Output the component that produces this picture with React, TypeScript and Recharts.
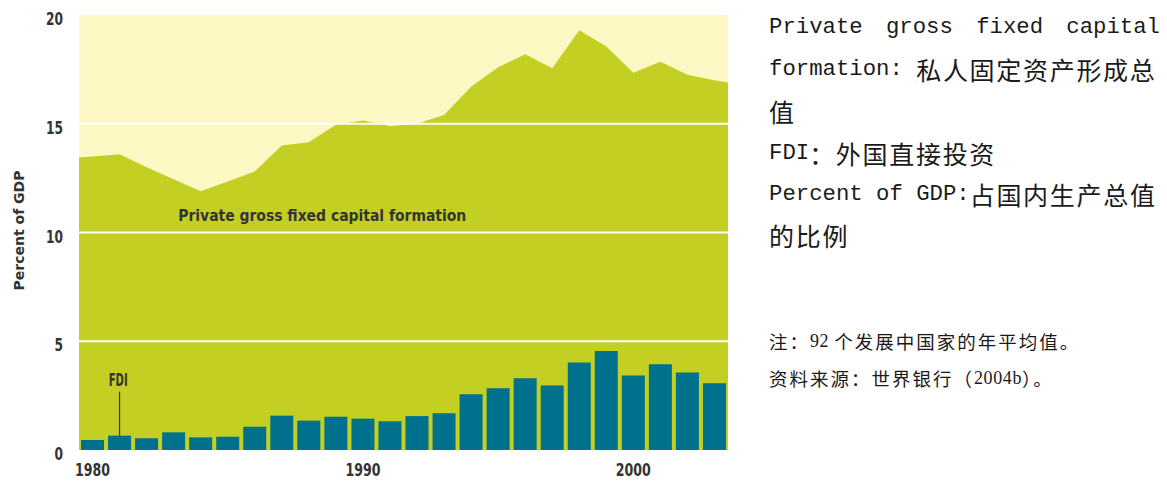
import React from "react";
import {
  ComposedChart,
  Area,
  Bar,
  XAxis,
  YAxis,
  CartesianGrid,
  ReferenceLine,
  ReferenceDot,
  Label,
} from "recharts";

const YEARS = [
  1980, 1981, 1982, 1983, 1984, 1985, 1986, 1987, 1988, 1989, 1990, 1991,
  1992, 1993, 1994, 1995, 1996, 1997, 1998, 1999, 2000, 2001, 2002, 2003,
];
const FDI = [
  0.46, 0.66, 0.54, 0.81, 0.58, 0.61, 1.07, 1.58, 1.35, 1.53, 1.44, 1.32,
  1.56, 1.69, 2.56, 2.84, 3.3, 2.96, 4.02, 4.55, 3.42, 3.94, 3.56, 3.07,
];
const PGFCF = [
  13.5, 13.6, 13.0, 12.45, 11.9, 12.35, 12.8, 14.0, 14.15, 14.95, 15.15, 14.9,
  15.0, 15.4, 16.7, 17.6, 18.2, 17.55, 19.3, 18.55, 17.35, 17.85, 17.25, 17.0,
];
// area runs to the plot edges: values read at the left / right border
const EDGE_X = [1979.5, 2003.5];
const EDGE_PGFCF = [13.45, 16.9];

const Y_TICKS = [0, 5, 10, 15, 20];
const X_TICKS = [1980, 1990, 2000];
const GRID_LINES = [5, 10, 15];

const BG = "#fdf8c4";
const GREEN = "#c3cf22";
const TEAL = "#00718c";
const INK = "#333333";
const CHART_FONT = "'Liberation Sans Narrow', 'DejaVu Sans Condensed', 'Liberation Sans', Arial, sans-serif";

const rows = YEARS.map((year, i) => ({ year, fdi: FDI[i] }));
const areaRows = [
  { x: EDGE_X[0], pgfcf: EDGE_PGFCF[0] },
  ...YEARS.map((year, i) => ({ x: year, pgfcf: PGFCF[i] })),
  { x: EDGE_X[1], pgfcf: EDGE_PGFCF[1] },
];

function YTick({ x, y, payload }: any) {
  const s = String(payload.value);
  return (
    <text
      x={x}
      y={y + 4}
      textAnchor="end"
      dominantBaseline="central"
      fill={INK}
      fontFamily={CHART_FONT}
      fontWeight={700}
      fontSize={17}
      textLength={s.length * 8.5}
      lengthAdjust="spacingAndGlyphs"
    >
      {s}
    </text>
  );
}

function XTick({ x, y, payload }: any) {
  const s = String(payload.value);
  return (
    <text
      x={x}
      y={y + 12}
      textAnchor="middle"
      dominantBaseline="central"
      fill={INK}
      fontFamily={CHART_FONT}
      fontWeight={700}
      fontSize={17}
      textLength={35}
      lengthAdjust="spacingAndGlyphs"
    >
      {s}
    </text>
  );
}

function YLabel({ viewBox }: any) {
  const cx = 19;
  const cy = viewBox.y + viewBox.height / 2 - 2;
  return (
    <text
      x={cx}
      y={cy}
      transform={`rotate(-90 ${cx} ${cy})`}
      textAnchor="middle"
      dominantBaseline="central"
      fill={INK}
      fontFamily={CHART_FONT}
      fontWeight={700}
      fontSize={14}
      textLength={120}
      lengthAdjust="spacingAndGlyphs"
    >
      Percent of GDP
    </text>
  );
}

function MixedLine({
  text,
  latin,
  cjk,
}: {
  text: string;
  latin: React.CSSProperties;
  cjk: React.CSSProperties;
}) {
  const parts = text.match(/[\u2E80-\uFFEF]+|[^\u2E80-\uFFEF]+/g) ?? [];
  return (
    <>
      {parts.map((p, i) =>
        /[\u2E80-\uFFEF]/.test(p) ? (
          <span key={i} style={cjk}>
            {p}
          </span>
        ) : (
          <span key={i} style={latin}>
            {p}
          </span>
        )
      )}
    </>
  );
}

const GLOSS_LATIN: React.CSSProperties = {
  fontFamily: "'Liberation Mono', 'DejaVu Sans Mono', monospace",
  fontSize: 22.3,
  whiteSpace: "pre",
};
const GLOSS_CJK: React.CSSProperties = {
  fontFamily: "'Noto Sans CJK SC', sans-serif",
  fontSize: 25,
  letterSpacing: 1.7,
};
const NOTE_LATIN: React.CSSProperties = {
  fontFamily: "'Liberation Serif', serif",
  fontSize: 18,
  whiteSpace: "pre",
  letterSpacing: 0.6,
};
const NOTE_CJK: React.CSSProperties = {
  fontFamily: "'Noto Sans CJK SC', sans-serif",
  fontSize: 18.5,
  letterSpacing: 2,
};

const GLOSS_LINES = [
  "formation: 私人固定资产形成总",
  "值",
  "FDI：外国直接投资",
  "Percent of GDP:占国内生产总值",
  "的比例",
];
const GLOSS_Y = [69, 111, 153, 194, 235];
const NOTE_LINES = ["注：92 个发展中国家的年平均值。", "资料来源：世界银行（2004b）。"];
const NOTE_Y = [341, 378];

function lineBox(cy: number, h: number): React.CSSProperties {
  return {
    position: "absolute",
    left: 769,
    top: cy - h / 2,
    height: h,
    display: "flex",
    alignItems: "center",
    color: "#1a1a1a",
    whiteSpace: "nowrap",
  };
}

export default function App() {
  return (
    <div
      style={{
        position: "absolute",
        left: 0,
        top: 0,
        width: 1167,
        height: 483,
        background: "#fff",
        overflow: "hidden",
      }}
    >
      <div style={{ position: "absolute", left: 0, top: 0 }}>
        <ComposedChart
          width={740}
          height={483}
          data={rows}
          margin={{ top: 15, right: 12, bottom: 5, left: 0 }}
        >
          <CartesianGrid horizontal={false} vertical={false} fill={BG} stroke="none" />
          <XAxis xAxisId="cat" dataKey="year" type="category" hide />
          <XAxis
            dataKey="x"
            type="number"
            domain={EDGE_X}
            allowDataOverflow
            ticks={X_TICKS}
            tick={<XTick />}
            tickLine={false}
            axisLine={false}
            height={28}
            tickSize={6}
            tickMargin={2}
          />
          <YAxis
            domain={[0, 20]}
            ticks={Y_TICKS}
            width={79}
            tick={<YTick />}
            tickLine={false}
            axisLine={false}
            tickSize={6}
            tickMargin={10}
          >
            <Label content={<YLabel />} />
          </YAxis>
          <Area
            data={areaRows}
            dataKey="pgfcf"
            type="linear"
            fill={GREEN}
            fillOpacity={1}
            stroke="none"
            isAnimationActive={false}
          />
          {GRID_LINES.map((v) => (
            <ReferenceLine key={v} y={v} stroke="#ffffff" strokeWidth={2} />
          ))}
          <Bar
            xAxisId="cat"
            dataKey="fdi"
            fill={TEAL}
            barSize={23}
            isAnimationActive={false}
          />
          <ReferenceLine
            segment={[
              { x: YEARS[1], y: FDI[1] },
              { x: YEARS[1], y: 2.68 },
            ]}
            stroke={INK}
            strokeWidth={1.2}
          />
          <ReferenceDot
            x={1980.95}
            y={3.2}
            r={0}
            shape={(p: any) => (
              <text
                x={p.cx}
                y={p.cy}
                textAnchor="middle"
                dominantBaseline="central"
                fill={INK}
                fontFamily={CHART_FONT}
                fontWeight={700}
                fontSize={17}
                textLength={19}
                lengthAdjust="spacingAndGlyphs"
              >
                FDI
              </text>
            )}
          />
          <ReferenceDot
            x={1983.17}
            y={10.76}
            r={0}
            shape={(p: any) => (
              <text
                x={p.cx}
                y={p.cy}
                textAnchor="start"
                dominantBaseline="central"
                fill={INK}
                fontFamily={CHART_FONT}
                fontWeight={700}
                fontSize={16}
                textLength={288}
                lengthAdjust="spacingAndGlyphs"
              >
                Private gross fixed capital formation
              </text>
            )}
          />
        </ComposedChart>
      </div>

      <div
        style={{
          ...lineBox(27, 36),
          width: 391,
          justifyContent: "space-between",
        }}
      >
        {"Private gross fixed capital".split(" ").map((w) => (
          <span key={w} style={GLOSS_LATIN}>
            {w}
          </span>
        ))}
      </div>
      {GLOSS_LINES.map((t, i) => (
        <div key={t} style={lineBox(GLOSS_Y[i], 36)}>
          <MixedLine text={t} latin={GLOSS_LATIN} cjk={GLOSS_CJK} />
        </div>
      ))}
      {NOTE_LINES.map((t, i) => (
        <div key={t} style={lineBox(NOTE_Y[i], 28)}>
          <MixedLine text={t} latin={NOTE_LATIN} cjk={NOTE_CJK} />
        </div>
      ))}
    </div>
  );
}
